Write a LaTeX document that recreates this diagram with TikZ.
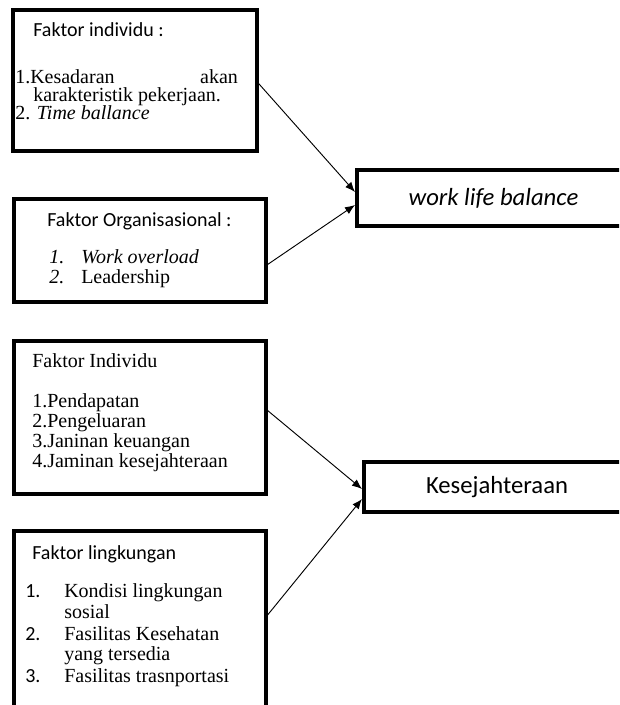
\documentclass[tikz,border=0pt]{standalone}
\usepackage{fontspec}
\setmainfont{Liberation Serif}
\newfontfamily\calibri{Carlito}
\usetikzlibrary{arrows.meta}
\usetikzlibrary{calc}
\tikzset{box/.style = {draw, rectangle, line width = 2.4pt, inner sep = 0}}
\tikzset{target/.style = {draw, rectangle, line width = 3pt, inner sep = 0,
                          font = \calibri\fontsize{18.5}{22}\selectfont}}
\tikzset{txt/.style = {anchor = base west, inner sep = 0,
                       font = \fontsize{15}{17}\selectfont}}
\tikzset{head/.style = {txt, font = \calibri\fontsize{15}{17}\selectfont}}
\tikzset{link/.style = {-{Latex[length = 7.5pt, width = 6pt]}, line width = 0.7pt}}

\begin{document}
\begin{tikzpicture}[x = 0.75pt, y = -0.75pt]
      \clip (0, 0) rectangle (619, 705);

      % work life balance
      \node [box, minimum width = 183pt, minimum height = 105.75pt] (indiv) at (135, 80.5) {};
      \node [head] (indiv-h) at (33, 37) {Faktor individu :};
      \node [txt] (indiv-1) at (15, 84) {\makebox[167pt][l]{1.Kesadaran\hfill akan}};
      \node [txt] (indiv-1b) at (33, 102) {karakteristik pekerjaan.};
      \node [txt] (indiv-2) at (15, 120) {2. \textit{Time ballance}};

      \node [box, minimum width = 189pt, minimum height = 77.25pt] (org) at (140, 250.5) {};
      \node [head] (org-h) at (47, 227) {Faktor Organisasional :};
      \node [txt] (org-1n) at (49, 264) {\textit{1.}};
      \node [txt] (org-1) at (81, 264) {\textit{Work overload}};
      \node [txt] (org-2n) at (49, 284) {\textit{2.}};
      \node [txt] (org-2) at (81, 284) {Leadership};

      \node [target, minimum width = 204.75pt, minimum height = 42pt] (wlb) at (493.5, 198) {\itshape work life balance};

      \draw [link] ($(indiv.east) + (0, 3)$) -- ($(wlb.west) + (0, -6)$);
      \draw [link] ($(org.east) + (0, 14)$) -- ($(wlb.west) + (0, 7)$);

      % kesejahteraan
      \node [box, minimum width = 189pt, minimum height = 114.75pt] (kind) at (140, 417.5) {};
      \node [txt] (kind-h) at (32, 367) {Faktor Individu};
      \foreach \t [count = \i] in {Pendapatan, Pengeluaran, Janinan keuangan, Jaminan kesejahteraan} {
        \node [txt] (kind-\i) at (32, 387 + 20*\i) {\i.\t};
      }

      \node [box, minimum width = 189pt, minimum height = 149.25pt] (ling) at (140, 630.5) {};
      \node [head] (ling-h) at (32, 559) {Faktor lingkungan};
      \node [head] (ling-1n) at (25, 597) {1.};
      \node [head] (ling-2n) at (25, 640) {2.};
      \node [head] (ling-3n) at (25, 682) {3.};
      \foreach \t/\y [count = \i] in {Kondisi lingkungan/597, sosial/618, Fasilitas Kesehatan/640,
                                      yang tersedia/660, Fasilitas trasnportasi/682} {
        \node [txt] (ling-\i) at (64, \y) {\t};
      }

      \node [target, minimum width = 199.5pt, minimum height = 37.5pt] (kes) at (497, 487) {Kesejahteraan};

      \draw [link] ($(kind.east) + (0, -7)$) -- ($(kes.west) + (0, 2)$);
      \draw [link] ($(ling.east) + (0, -15.5)$) -- ($(kes.west) + (0, 12)$);
    \end{tikzpicture}
\end{document}
